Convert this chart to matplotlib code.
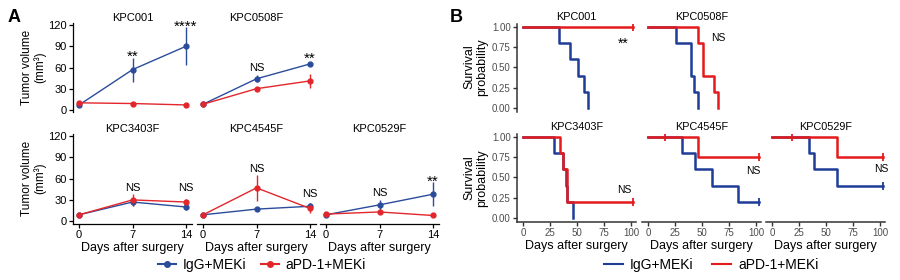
import numpy as np
import matplotlib
matplotlib.use('Agg')
import matplotlib.pyplot as plt
from matplotlib.lines import Line2D

plt.rcParams['font.family'] = ['Liberation Sans', 'DejaVu Sans']

W, H = 900, 280

BLUE = '#2B4C9B'
RED = '#E3262B'
KM_BLUE = '#1F3C96'
KM_RED = '#E41A1C'

# ---- panel A: tumor volume (mean, error) ----
days = [0, 7, 14]
vol_names = ['KPC001', 'KPC0508F', 'KPC3403F', 'KPC4545F', 'KPC0529F']
igg_mean = [[7, 57, 90], [8, 44, 65], [9, 27, 20], [9, 17, 21], [9, 23, 38]]
igg_err = [[2, 17, 27], [2, 5, 3], [1, 6, 4], [1, 2, 5], [1, 7, 17]]
apd_mean = [[10, 9, 7], [8, 30, 41], [9, 30, 27], [9, 47, 18], [10, 13, 8]]
apd_err = [[3, 1, 1], [1, 2, 10], [1, 8, 4], [1, 18, 7], [1, 2, 1]]
vol_sig = [['**', '****'], ['NS', '**'], ['NS', 'NS'], ['NS', 'NS'], ['NS', '**']]
vol_sig_y = [[75, 117], [59, 73], [47, 47], [74, 39], [40, 55]]

# ---- panel B: survival curves (step points, censor times) ----
km_names = ['KPC001', 'KPC0508F', 'KPC3403F', 'KPC4545F', 'KPC0529F']
km_igg_t = [[0, 33, 44, 51, 57, 60], [0, 26, 40, 43, 46], [0, 29, 37, 40, 41, 46],
            [0, 32, 44, 59, 83, 103], [0, 34, 39, 60, 103]]
km_igg_s = [[1, 0.8, 0.6, 0.4, 0.2, 0], [1, 0.8, 0.4, 0.2, 0], [1, 0.8, 0.6, 0.4, 0.2, 0],
            [1, 0.8, 0.6, 0.4, 0.2, 0.2], [1, 0.8, 0.6, 0.4, 0.4]]
km_igg_cens = [[], [], [], [103], [103]]
km_apd_t = [[0, 102], [0, 46, 51, 61, 65], [0, 34, 37, 41, 102], [0, 46, 103], [0, 60, 103]]
km_apd_s = [[1, 1], [1, 0.8, 0.4, 0.2, 0], [1, 0.8, 0.6, 0.2, 0.2], [1, 0.75, 0.75], [1, 0.75, 0.75]]
km_apd_cens = [[102], [], [102], [16, 103], [19, 103]]
km_sig = ['**', 'NS', 'NS', 'NS', 'NS']
km_sig_x = [93, 65, 94, 98, 101]
km_sig_y = [0.79, 0.87, 0.35, 0.58, 0.60]


def px_axes(fig, left, top, width, height):
    return fig.add_axes([left / W, 1 - (top + height) / H, width / W, height / H])


def surv_at(t, s, x):
    i = np.searchsorted(t, x, side='right') - 1
    return np.array(s)[i]


fig = plt.figure(figsize=(W / 100, H / 100), dpi=100)

# A layout: (left, top, height) per panel
a_pos = [(73, 23, 89), (197, 23, 89), (73, 134, 90), (197, 134, 90), (320, 134, 90)]
a_ylim = [(-3, 123), (-3, 123), (-4, 123), (-4, 123), (-4, 123)]

for i, name in enumerate(vol_names):
    left, top, h = a_pos[i]
    ax = px_axes(fig, left, top, 119, h)
    ax.errorbar(days, igg_mean[i], yerr=igg_err[i], color=BLUE, marker='o', ms=3.5,
                lw=1, elinewidth=1, capsize=0)
    ax.errorbar(days, apd_mean[i], yerr=apd_err[i], color=RED, marker='o', ms=3.5,
                lw=1, elinewidth=1, capsize=0)
    for x, lab, y in zip(days[1:], vol_sig[i], vol_sig_y[i]):
        fs = 11 if '*' in lab else 8
        ax.text(x, y, lab, ha='center', va='center', fontsize=fs)
    ax.set_xlim(-0.8, 14.8)
    ax.set_ylim(*a_ylim[i])
    ax.set_title(name, fontsize=8, pad=0.5)
    ax.patch.set_alpha(0)
    for sp in ['top', 'right']:
        ax.spines[sp].set_visible(False)
    ax.tick_params(length=3, width=0.9, labelsize=8, pad=1.5)
    if i in (0, 2):
        ax.set_yticks([0, 30, 60, 90, 120])
        ax.spines['left'].set_linewidth(0.9)
    else:
        ax.spines['left'].set_visible(False)
        ax.set_yticks([])
    if i >= 2:
        ax.set_xticks(days)
        ax.spines['bottom'].set_linewidth(0.9)
        ax.set_xlabel('Days after surgery', fontsize=9, labelpad=1)
    else:
        ax.spines['bottom'].set_visible(False)
        ax.set_xticks([])

for yc in (67, 178):
    fig.text(34 / W, 1 - yc / H, 'Tumor volume\n(mm³)', rotation=90, ha='center',
             va='center', fontsize=8.5, linespacing=1.05)

# B layout
b_pos = [(517, 24), (642, 24), (517, 134), (642, 134), (766, 134)]

for i, name in enumerate(km_names):
    left, top = b_pos[i]
    ax = px_axes(fig, left, top, 119, 88)
    ax.step(km_igg_t[i], km_igg_s[i], where='post', color=KM_BLUE, lw=1.8)
    ax.step(km_apd_t[i], km_apd_s[i], where='post', color=KM_RED, lw=1.8)
    if km_igg_cens[i]:
        ax.plot(km_igg_cens[i], surv_at(km_igg_t[i], km_igg_s[i], km_igg_cens[i]),
                ls='none', marker='|', ms=6, mew=1.3, color=KM_BLUE)
    if km_apd_cens[i]:
        ax.plot(km_apd_cens[i], surv_at(km_apd_t[i], km_apd_s[i], km_apd_cens[i]),
                ls='none', marker='|', ms=6, mew=1.3, color=KM_RED)
    fs = 10 if '*' in km_sig[i] else 7.5
    ax.text(km_sig_x[i], km_sig_y[i], km_sig[i], ha='center', va='center', fontsize=fs)
    ax.set_xlim(-5.5, 104.7)
    ax.set_ylim(-0.05, 1.037)
    ax.set_title(name, fontsize=7.8, pad=3)
    ax.patch.set_alpha(0)
    for sp in ['top', 'right']:
        ax.spines[sp].set_visible(False)
    ax.tick_params(length=3, width=1.0, labelsize=7, pad=1.5, labelcolor='#4D4D4D',
                   color='#333333')
    if i in (0, 2):
        ax.set_yticks([0, 0.25, 0.5, 0.75, 1.0])
        ax.set_yticklabels(['0.00', '0.25', '0.50', '0.75', '1.00'])
        ax.spines['left'].set_linewidth(1.1)
        ax.spines['left'].set_color('#333333')
    else:
        ax.spines['left'].set_visible(False)
        ax.set_yticks([])
    if i >= 2:
        ax.set_xticks([0, 25, 50, 75, 100])
        ax.spines['bottom'].set_linewidth(1.1)
        ax.spines['bottom'].set_color('#333333')
        ax.set_xlabel('Days after surgery', fontsize=9, labelpad=1)
    else:
        ax.spines['bottom'].set_visible(False)
        ax.set_xticks([])

for yc in (67, 178):
    fig.text(476 / W, 1 - yc / H, 'Survival\nprobability', rotation=90, ha='center',
             va='center', fontsize=9, linespacing=1.05)

fig.text(8 / W, 1 - 17 / H, 'A', fontsize=13, fontweight='bold', va='center')
fig.text(450 / W, 1 - 17 / H, 'B', fontsize=13, fontweight='bold', va='center')

labels = ['IgG+MEKi', 'aPD-1+MEKi']
a_handles = [Line2D([], [], color=BLUE, marker='o', ms=4, lw=1.5),
             Line2D([], [], color=RED, marker='o', ms=4, lw=1.5)]
fig.legend(a_handles, labels, loc='center', bbox_to_anchor=(262 / W, 1 - 265 / H), ncol=2,
           frameon=False, fontsize=10, handlelength=1.3, handletextpad=0.5,
           columnspacing=1.0, borderpad=0)
b_handles = [Line2D([], [], color=KM_BLUE, lw=1.5), Line2D([], [], color=KM_RED, lw=1.5)]
fig.legend(b_handles, labels, loc='center', bbox_to_anchor=(711 / W, 1 - 265 / H), ncol=2,
           frameon=False, fontsize=10, handlelength=1.4, handletextpad=0.5,
           columnspacing=1.3, borderpad=0)

fig.savefig('out.png', dpi=100)
